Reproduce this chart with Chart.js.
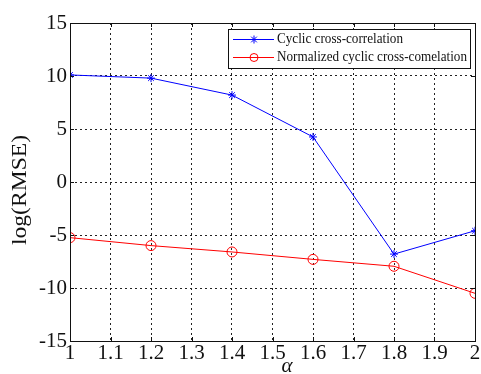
<!DOCTYPE html>
<html><head><meta charset="utf-8">
<script src="https://cdn.jsdelivr.net/npm/chart.js@4/dist/chart.umd.min.js"></script>
<style>html,body{margin:0;padding:0;background:#fff}#wrap{width:481px;height:374px}</style>
</head><body><div id="wrap"><canvas id="c" width="481" height="374"></canvas></div>
<script>
const alphas = [1.0, 1.2, 1.4, 1.6, 1.8, 2.0];
const cyclic = [10.1, 9.8, 8.2, 4.25, -6.8, -4.6];
const normalized = [-5.25, -6.0, -6.6, -7.3, -7.95, -10.5];
const seriesNames = ['Cyclic cross-correlation', 'Normalized cyclic cross-comelation'];
const xTitle = 'α';
const yTitle = 'log(RMSE)';

const serif = "'Liberation Serif', 'Times New Roman', serif";
Chart.defaults.font.family = serif;
Chart.defaults.font.size = 21;
Chart.defaults.color = '#111';
const toPts = (xs, ys) => xs.map((x, i) => ({x: x, y: ys[i]}));

const framePlugin = {
  id: 'frame',
  afterDraw(chart) {
    const {ctx, chartArea: a} = chart;
    ctx.save();
    ctx.strokeStyle = '#111'; ctx.lineWidth = 1; ctx.setLineDash([]);
    ctx.strokeRect(Math.round(a.left) + 0.5, Math.round(a.top) + 0.5, Math.round(a.right - a.left), Math.round(a.bottom - a.top));
    const xs = chart.scales.x, ys = chart.scales.y;
    ctx.beginPath();
    xs.ticks.forEach(t => { const p = Math.round(xs.getPixelForValue(t.value)) + 0.5;
      ctx.moveTo(p, a.top); ctx.lineTo(p, a.top + 4); ctx.moveTo(p, a.bottom); ctx.lineTo(p, a.bottom - 4); });
    ys.ticks.forEach(t => { const p = Math.round(ys.getPixelForValue(t.value)) + 0.5;
      ctx.moveTo(a.left, p); ctx.lineTo(a.left + 4, p); ctx.moveTo(a.right, p); ctx.lineTo(a.right - 4, p); });
    ctx.stroke();
    // legend
    const lx = 228, ly = 29, lw = 242, lh = 39;
    ctx.fillStyle = '#fff';
    ctx.fillRect(lx, ly, lw, lh);
    ctx.strokeStyle = '#111';
    ctx.strokeRect(lx + 0.5, ly + 0.5, lw, lh);
    const rows = [{y: 39, c: 'blue', s: 'star', w: 126}, {y: 57, c: 'red', s: 'circle', w: 190}];
    ctx.font = '15px ' + serif;
    ctx.textBaseline = 'middle';
    rows.forEach((r, i) => {
      ctx.strokeStyle = r.c; ctx.lineWidth = 1;
      ctx.beginPath(); ctx.moveTo(233, r.y + 0.5); ctx.lineTo(274, r.y + 0.5); ctx.stroke();
      ctx.fillStyle = r.s === 'circle' ? 'rgba(0,0,0,0)' : r.c;
      Chart.helpers.drawPoint(ctx, {pointStyle: r.s, radius: 4, borderWidth: 1}, 254, r.y + 0.5);
      ctx.fillStyle = '#111';
      const mw = ctx.measureText(seriesNames[i]).width;
      ctx.save();
      ctx.translate(277, r.y);
      ctx.scale(r.w / mw, 1);
      ctx.fillText(seriesNames[i], 0, 0);
      ctx.restore();
    });
    // x axis title
    ctx.font = 'italic 21px ' + serif;
    ctx.textAlign = 'center';
    ctx.fillStyle = '#111';
    ctx.fillText(xTitle, 287, 366);
    // y axis title
    ctx.save();
    ctx.translate(20, 190);
    ctx.rotate(-Math.PI / 2);
    ctx.font = '21px ' + serif;
    ctx.textBaseline = 'middle';
    const tw = ctx.measureText(yTitle).width;
    ctx.scale(110 / tw, 1);
    ctx.fillText(yTitle, 0, 0);
    ctx.restore();
    ctx.restore();
  }
};

new Chart(document.getElementById('c'), {
  type: 'line',
  data: {
    datasets: [
      {label: seriesNames[0], data: toPts(alphas, cyclic), borderColor: 'blue', backgroundColor: 'blue',
       borderWidth: 1, pointStyle: 'star', pointRadius: 4, pointBorderWidth: 1, tension: 0},
      {label: seriesNames[1], data: toPts(alphas, normalized), borderColor: 'red', backgroundColor: 'transparent',
       borderWidth: 1, pointStyle: 'circle', pointRadius: 5, pointBorderWidth: 1, tension: 0}
    ]
  },
  options: {
    responsive: false, animation: false, devicePixelRatio: 1,
    layout: {padding: {left: 0, right: 6, top: 23, bottom: 0}},
    plugins: {legend: {display: false}, tooltip: {enabled: false}},
    scales: {
      x: {type: 'linear', min: 1, max: 2,
        ticks: {stepSize: 0.1, color: '#111', padding: 0, maxRotation: 0,
          callback: v => (Math.round(v * 10) / 10).toString()},
        grid: {color: '#222', lineWidth: 1, drawTicks: false},
        border: {display: false, dash: [2, 3]},
        afterFit: s => { s.height = 33; }
      },
      y: {min: -15, max: 15,
        ticks: {stepSize: 5, color: '#111', padding: 3},
        grid: {color: '#222', lineWidth: 1, drawTicks: false},
        border: {display: false, dash: [2, 3]},
        afterFit: s => { s.width = 70; }
      }
    }
  },
  plugins: [framePlugin]
});
</script></body></html>
